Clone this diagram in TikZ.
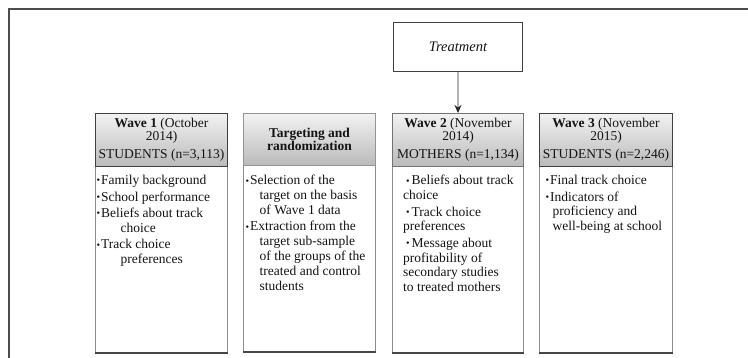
\documentclass[tikz,border=0pt]{standalone}
\usepackage{fontspec}
\setmainfont{Liberation Serif}
\usepackage{graphicx}
\usetikzlibrary{arrows.meta}
\newcommand\bul{\raisebox{0.6pt}{\scalebox{0.75}{•}}\kern0.8pt}
\begin{document}
\begin{tikzpicture}[x=1pt,y=-1pt,
  every node/.style={inner sep=0pt, text=black!92},
  txt/.style={font=\fontsize{13.5}{14.8}\selectfont},
  headtxt/.style={font=\fontsize{13.5}{13}\selectfont, align=center},
  frame/.style={draw=black!70, line width=1.1pt},
  headbox/.style={draw=#1, line width=1pt, top color=black!5, bottom color=black!27,
    anchor=north west, minimum height=53pt},
  bodybox/.style={draw=black!45, line width=0.8pt, fill=white,
    anchor=north west, minimum height=186pt},
  bodytxt/.style={txt, anchor=north west, align=left},
  baseline rule/.style={draw=black!72, line width=1.6pt},
]
\useasboundingbox (0,0) rectangle (748,358);

% page frame (top and left rules)
\draw[frame] (9,358) -- (9,9) -- (748,9);

% treatment box and its arrow to wave 2
\node[draw=black!75, line width=0.9pt, minimum width=129pt, minimum height=49pt,
  anchor=north west, font=\fontsize{14.5}{16}\selectfont\itshape] (treat) at (393,22) {Treatment};

% body boxes
\node[bodybox, minimum width=132pt] (b1) at (95,166) {};
\node[bodybox, minimum width=132pt] (b2) at (243,165) {};
\node[bodybox, minimum width=131pt] (b3) at (392,166) {};
\node[bodybox, minimum width=133pt] (b4) at (539,166) {};
\foreach \b in {b1,b2,b3,b4}
  \draw[baseline rule] (\b.south west) -- (\b.south east);

% header boxes
\node[headbox=black!75, minimum width=132pt] (h1) at (95,113) {};
\node[headbox=black!42, minimum width=132pt, minimum height=52pt] (h2) at (243,113) {};
\node[headbox=black!55, minimum width=131pt] (h3) at (392,113) {};
\node[headbox=black!75, minimum width=133pt] (h4) at (539,113) {};

\draw[-{Stealth[length=8pt,width=7pt]}, line width=0.8pt, black!85] (treat.south) -- (h3.north);

% header texts
\node[headtxt, anchor=north] (ht1) at ([yshift=-4.5pt]h1.north)
  {\textbf{Wave 1} (October\\ 2014)\\[5pt] STUDENTS (n=3,113)};
\node[headtxt] (ht2) at (h2.center) {\textbf{Targeting and}\\ \textbf{randomization}};
\node[headtxt, anchor=north] (ht3) at ([yshift=-4.5pt]h3.north)
  {\textbf{Wave 2} (November\\ 2014)\\[5pt] MOTHERS (n=1,134)};
\node[headtxt, anchor=north] (ht4) at ([yshift=-4.5pt]h4.north)
  {\textbf{Wave 3} (November\\ 2015)\\[5pt] STUDENTS (n=2,246)};

% body texts
\node[bodytxt] (t1) at (96.5,175) {%
  \bul Family background\\[1.7pt]
  \bul School performance\\[1.7pt]
  \bul Beliefs about track\\
  \hspace*{24pt}choice\\[1.7pt]
  \bul Track choice\\
  \hspace*{24pt}preferences};
\node[bodytxt] (t2) at (245.5,175) {%
  \bul Selection of the\\
  \hspace*{14pt}target on the basis\\
  \hspace*{14pt}of Wave 1 data\\[1.7pt]
  \bul Extraction from the\\
  \hspace*{14pt}target sub-sample\\
  \hspace*{14pt}of the groups of the\\
  \hspace*{14pt}treated and control\\
  \hspace*{14pt}students};
\node[bodytxt] (t3) at (403,175) {%
  \hspace*{3pt}\bul\kern1pt Beliefs about track\\
  choice\\[1.7pt]
  \hspace*{3pt}\bul\kern1pt Track choice\\
  preferences\\[1.7pt]
  \hspace*{3pt}\bul\kern1pt Message about\\
  profitability of\\
  secondary studies\\
  to treated mothers};
\node[bodytxt] (t4) at (545.5,175) {%
  \bul Final track choice\\[1.7pt]
  \bul Indicators of\\
  \hspace*{7pt}proficiency and\\
  \hspace*{7pt}well-being at school};
\end{tikzpicture}
\end{document}
